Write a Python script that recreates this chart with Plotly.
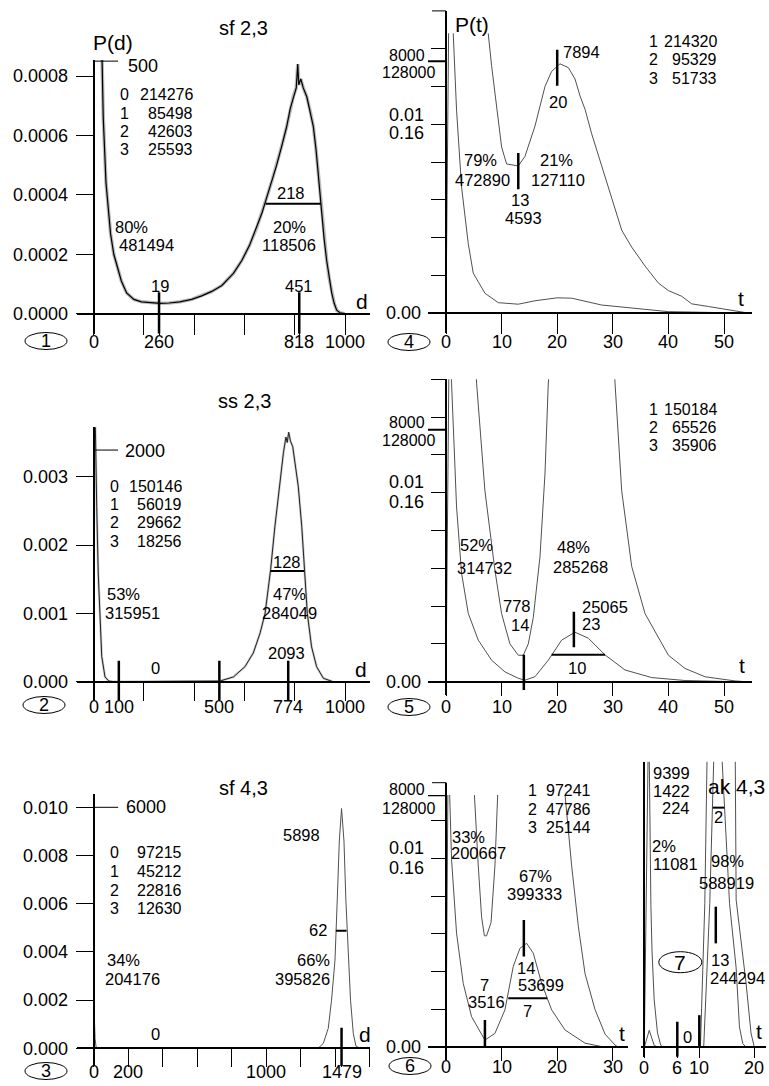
import plotly.graph_objects as go

W, H = 769, 1086
FONT = "Liberation Sans, Arial, Helvetica, sans-serif"
GREY = "#505050"
FS = 16.5        # annotation font size
FTB = 16         # table font size
FT = 18          # tick-label font size

# ===================== DATA =====================
N_TOTAL = 600000                    # 481494 + 118506
MAG = 0.16 / 0.01                   # the two scales printed on the P(t) axes

# ---- Panel 1 : sf 2,3  P(d)
p1_d = [25, 32, 38, 49, 58, 67, 80, 95, 110, 131, 160, 190, 230, 264, 300, 343, 390, 430, 470, 510,
        556, 590, 620, 649, 670, 688, 710, 728, 750, 768, 782, 794, 806, 812, 816, 824, 834, 848, 862, 874,
        885, 894, 907, 917, 927, 937, 947, 957, 967, 980, 1000]
p1_P = [0.0012, 0.00085, 0.00066, 0.00044, 0.00034, 0.00027, 0.00020, 0.00015, 0.00011, 0.000070,
        0.000048, 0.000040, 0.000036, 0.000035, 0.000036, 0.000040, 0.000048, 0.000060, 0.000075, 0.000095,
        0.000136, 0.00018, 0.00023, 0.00029, 0.00034, 0.00039, 0.00045, 0.00050, 0.00057, 0.00063,
        0.00069, 0.00073, 0.00076, 0.00084, 0.00077, 0.00079, 0.00076, 0.00073, 0.00068, 0.00063,
        0.00055, 0.00047, 0.00033, 0.00025, 0.00018, 0.00012, 0.00007, 0.000035, 0.000012, 0.000003, 0.0]
p1_table_idx = ["0", "1", "2", "3"]
p1_table_val = ["214276", "85498", "42603", "25593"]
p1_marks = [260, 818]
p1_mark_top = 0.0000718
p1_top_line = 0.00085
p1_top_count = "500"
p1_fwhm = [684, 904]
p1_fwhm_y = 0.00037

# ---- Panel 2 : ss 2,3  P(d)
p2_d = [3, 8, 12, 18, 25, 32, 45, 60, 80, 450, 503, 556, 602, 635, 662, 682, 704, 721, 741, 755,
        765, 770, 776, 783, 792, 803, 814, 828, 838, 850, 867, 887, 914, 952]
p2_P = [0.0045, 0.0031, 0.00256, 0.00159, 0.00086, 0.00037, 0.00007, 0.00001, 0.0, 0.0,
        0.00001, 0.00007, 0.00022, 0.00042, 0.00071, 0.00100, 0.00164, 0.00227, 0.00295, 0.00335,
        0.00358, 0.00350, 0.00365, 0.00352, 0.00344, 0.00318, 0.00286, 0.00227, 0.00164, 0.00100,
        0.00051, 0.00022, 0.00005, 0.0]
p2_table_idx = ["0", "1", "2", "3"]
p2_table_val = ["150146", "56019", "29662", "18256"]
p2_marks = [100, 500, 774]
p2_mark_top = 0.000307
p2_top_line = 0.00339
p2_top_count = "2000"
p2_fwhm = [704, 837]
p2_fwhm_y = 0.00162

# ---- Panel 3 : sf 4,3  P(d)
p3_d = [0, 3, 8, 14, 25, 1300, 1330, 1359, 1378, 1398, 1411, 1423, 1436, 1450, 1461, 1475, 1488, 1504, 1519, 1542]
p3_P = [0.0, 0.00145, 0.0004, 0.00005, 0.0, 0.0, 0.0002, 0.00083, 0.0020, 0.00366, 0.00615, 0.0086,
        0.00995, 0.0086, 0.00615, 0.00366, 0.0020, 0.00062, 0.0001, 0.0]
p3_table_idx = ["0", "1", "2", "3"]
p3_table_val = ["97215", "45212", "22816", "12630"]
p3_peak_pos = 1436
p3_peak_label = "1479"
p3_mark_top = 0.000855
p3_top_line = 0.010
p3_top_count = "6000"
p3_fwhm = [1403, 1465]
p3_fwhm_y = 0.00488

# ---- Panel 4 : P(t) for sf 2,3   (low = 0.16 scale, high = 0.01 scale)
p4_t_low = [0, 0.6, 1.3, 1.9, 2.8, 4.0, 4.9, 7.0, 9.4, 13.0, 16.0, 20.0, 22.6, 28.0, 34.0, 40.0, 49.0, 54.0]
p4_P_low = [0, 0.304, 0.237, 0.172, 0.107, 0.059, 0.034, 0.017, 0.0090, 0.0077, 0.0106, 0.0131, 0.0128,
            0.0070, 0.0042, 0.0014, 0.0006, 0.0]
p4_t_high = [7.3, 7.6, 8.2, 9.1, 10.0, 10.9, 13.0, 14.2, 16.0, 17.8, 19.0, 20.5, 22.0, 23.2, 24.1, 25.0,
             26.2, 28.0, 30.1, 31.6, 33.4, 35.8, 38.2, 40.0, 42.4, 44.2, 47.2, 50.8, 53.8]
p4_P_high = [0.0170, 0.0148, 0.0131, 0.0108, 0.0088, 0.0079, 0.0078, 0.0083, 0.0099, 0.0120, 0.0128,
             0.0132, 0.0130, 0.0124, 0.0115, 0.0108, 0.0095, 0.0078, 0.0058, 0.0044, 0.0035, 0.0025,
             0.0016, 0.0012, 0.0009, 0.0005, 0.00036, 0.00018, 0.00004]
p4_table_idx = ["1", "2", "3"]
p4_table_val = ["214320", "95329", "51733"]
p4_marks = [(20, 0.01204, 0.01394), (13, 0.00656, 0.00848)]

# ---- Panel 5 : P(t) for ss 2,3
p5_t_low = [0, 0.6, 1.0, 1.9, 2.8, 4.0, 5.8, 8.2, 10.6, 13.0, 14.2, 16.0, 18.4, 20.8, 23.2, 25.6, 28.6,
            32.2, 37.0, 43.0, 52.0]
p5_P_low = [0, 0.304, 0.253, 0.148, 0.0918, 0.0579, 0.0352, 0.0182, 0.0083, 0.0029, 0.0013, 0.0042,
            0.0182, 0.0352, 0.0419, 0.0368, 0.0227, 0.0099, 0.0035, 0.0010, 0.0]
p5_t_high = [5.3, 5.5, 7.0, 8.8, 10.0, 11.5, 13.0, 13.9, 14.8, 15.7, 16.9, 17.8, 18.4, 18.7, 30.2, 30.4,
             31.6, 33.4, 35.8, 40.0, 43.0, 46.6, 52.0, 54.0]
p5_P_high = [0.0170, 0.0158, 0.0101, 0.0059, 0.0036, 0.0020, 0.0014, 0.0014, 0.0020, 0.0034, 0.0066,
             0.0110, 0.0158, 0.0170, 0.0170, 0.0158, 0.0101, 0.0061, 0.0036, 0.0014, 0.0007, 0.00026,
             0.00004, 0.0]
p5_table_idx = ["1", "2", "3"]
p5_table_val = ["150184", "65526", "35906"]
p5_marks = [(14, -0.00044, 0.00142), (23, 0.00182, 0.0037)]
p5_fwhm = [19.0, 28.6]
p5_fwhm_y = 0.00142

# ---- Panel 6 : P(t) for sf 4,3
p6_t_low = [0, 0.4, 1.0, 1.9, 3.1, 4.6, 7.0, 8.8, 10.6, 12.1, 13.3, 14.5, 15.7, 17.2, 19.0, 21.4, 25.0,
            28.0, 31.0]
p6_P_low = [0, 0.256, 0.159, 0.0966, 0.0541, 0.0259, 0.0061, 0.0118, 0.0317, 0.0685, 0.0838, 0.0880,
            0.0797, 0.0541, 0.0317, 0.0147, 0.0035, 0.0006, 0.0]
p6_t_high = [4.9, 5.1, 5.8, 6.4, 6.9, 7.3, 8.1, 8.8, 9.3, 9.5, 21.2, 21.4, 22.6, 23.8, 25.0, 26.8, 28.6,
             30.4, 31.0]
p6_P_high = [0.0150, 0.0134, 0.0096, 0.0069, 0.0059, 0.0059, 0.0066, 0.0096, 0.0134, 0.0150, 0.0150,
             0.0134, 0.0096, 0.0064, 0.0039, 0.0020, 0.0007, 0.00012, 0.0]
p6_table_idx = ["1", "2", "3"]
p6_table_val = ["97241", "47786", "25144"]
p6_marks = [(7, 0.0, 0.00144), (14, 0.0048, 0.00674)]
p6_fwhm = [11.2, 18.2]
p6_fwhm_y = 0.0026

# ---- Panel 7 : ak 4,3
p7_t_low = [0, 0.9, 1.8, 2.5, 10.8, 11.9, 12.7, 13.0, 14.0, 15.5, 16.7, 17.3, 17.9, 18.5, 21.0]
p7_P_low = [0, 0.0144, 0.0016, 0, 0, 0.1216, 0.256, 0.4064, 0.256, 0.1216, 0.0672, 0.0173, 0.0032, 0, 0]
p7_t_high = [0, 0.5, 0.8, 1.2, 1.4, 1.8, 2.4, 3.0, 3.5, 10.2, 11.0, 11.5, 16.5, 16.7, 17.6, 18.5, 19.4,
             20.0, 21.0]
p7_P_high = [0, 0.0100, 0.0180, 0.0075, 0.0051, 0.0025, 0.00076, 0.0001, 0, 0, 0.0076, 0.0170, 0.0170,
             0.0078, 0.0056, 0.0034, 0.00076, 0, 0]
p7_table_val = ["9399", "1422", "224"]
p7_marks = [(6, -0.0005, 0.00135), (10, 0.0, 0.0017), (13, 0.0055, 0.00744)]
p7_fwhm = [12.45, 14.55]
p7_fwhm_y = 0.01268

# ===================== GEOMETRY (pixel calibration of each panel) =====================
geo = {
    1: dict(xcal=(93.7, 0.0, 345.0, 1000.0), ycal=(313.7, 0.0, 76.0, 0.0008),
            xdom=(76.7, 370.0), ydom=(60.0, 333.7), xtl=20, ytl=17, xlab=342),
    2: dict(xcal=(93.7, 0.0, 345.0, 1000.0), ycal=(681.7, 0.0, 476.7, 0.003),
            xdom=(76.7, 370.0), ydom=(427.3, 700.0), xtl=18, ytl=17, xlab=707),
    3: dict(xcal=(93.7, 0.0, 266.3, 1000.0), ycal=(1048.3, 0.0, 807.3, 0.010),
            xdom=(76.7, 370.0), ydom=(794.3, 1066.3), xtl=18, ytl=17, xlab=1072),
    4: dict(xcal=(446.0, 0.0, 724.0, 50.0), ycal=(313.3, 0.0, 124.3, 0.010),
            xdom=(428.0, 751.7), ydom=(33.3, 333.3), xtl=20, ytl=14, axtop=10.9, xlab=342),
    5: dict(xcal=(446.0, 0.0, 724.0, 50.0), ycal=(681.7, 0.0, 492.7, 0.010),
            xdom=(428.0, 751.7), ydom=(379.3, 694.7), xtl=13, ytl=14, xlab=707),
    6: dict(xcal=(446.0, 0.0, 724.0, 50.0), ycal=(1047.3, 0.0, 858.3, 0.010),
            xdom=(428.0, 628.3), ydom=(795.0, 1060.3), xtl=13, ytl=14, axtop=782.7, xlab=1067),
    7: dict(xcal=(644.3, 0.0, 754.3, 20.0), ycal=(1047.3, 0.0, 858.3, 0.010),
            xdom=(641.0, 766.0), ydom=(761.7, 1057.3), xtl=10, ytl=0, xlab=1068),
}

xticks = {
    1: ([0, 200, 260, 400, 600, 800, 818, 1000], ["0", "", "260", "", "", "", "818", "1000"]),
    2: ([0, 100, 200, 400, 500, 600, 774, 800, 1000], ["0", "100", "", "", "500", "", "774", "", "1000"]),
    3: ([0, 200, 400, 600, 800, 1000, 1200, 1400, p3_peak_pos, 1600],
        ["0", "200", "", "", "", "1000", "", "", p3_peak_label, ""]),
    4: ([0, 10, 20, 30, 40, 50], ["0", "10", "20", "30", "40", "50"]),
    5: ([0, 10, 20, 30, 40, 50], ["0", "10", "20", "30", "40", "50"]),
    6: ([0, 10, 20, 30], ["0", "10", "20", "30"]),
    7: ([0, 6, 10, 20], ["0", "6", "10", "20"]),
}
tstep = [0.0, 0.002, 0.004, 0.006, 0.008, 0.010, 0.012, 0.014, 0.016]
yticks = {
    1: ([0, 0.0002, 0.0004, 0.0006, 0.0008], ["0.0000", "0.0002", "0.0004", "0.0006", "0.0008"]),
    2: ([0, 0.001, 0.002, 0.003], ["0.000", "0.001", "0.002", "0.003"]),
    3: ([0, 0.002, 0.004, 0.006, 0.008, 0.010], ["0.000", "0.002", "0.004", "0.006", "0.008", "0.010"]),
    4: (tstep, None), 5: (tstep, None), 6: (tstep[:8], None), 7: ([], None),
}
overlay_id = {4: 8, 5: 9, 6: 10, 7: 11}


def lin(p, pa, va, pb, vb):
    return va + (p - pa) * (vb - va) / (pb - pa)


def xid(n):
    return "x" if n == 1 else f"x{n}"


def yid(n):
    return "y" if n == 1 else f"y{n}"


def px2v_y(n, py):
    return lin(py, *geo[n]["ycal"])


def v2py(n, v):
    pa, va, pb, vb = geo[n]["ycal"]
    return lin(v, va, pa, vb, pb)


layout = {}
yranges = {}
for n, g in geo.items():
    xr = [lin(g["xdom"][0], *g["xcal"]), lin(g["xdom"][1], *g["xcal"])]
    yr = [px2v_y(n, g["ydom"][1]), px2v_y(n, g["ydom"][0])]
    yranges[n] = yr
    tv, tt = xticks[n]
    layout["xaxis" if n == 1 else f"xaxis{n}"] = dict(
        domain=[g["xdom"][0] / W, g["xdom"][1] / W], range=xr, anchor="free",
        position=1 - g["ycal"][0] / H, showline=True, linewidth=2, linecolor="black",
        ticks="outside", ticklen=g["xtl"], tickwidth=1, tickcolor="black",
        tickvals=tv, showticklabels=False, showgrid=False, zeroline=False, fixedrange=True)
    ytv, ytt = yticks[n]
    yax = dict(
        domain=[1 - g["ydom"][1] / H, 1 - g["ydom"][0] / H], range=yr, anchor="free",
        position=g["xcal"][0] / W, showline=True, linewidth=2, linecolor="black",
        ticks="outside" if g["ytl"] else "", ticklen=max(g["ytl"], 1), tickwidth=1, tickcolor="black",
        tickvals=ytv, showgrid=False, zeroline=False, fixedrange=True,
        tickfont=dict(family=FONT, size=FT, color="black"))
    if ytt is None:
        yax["showticklabels"] = False
    else:
        yax["ticktext"] = ytt
        yax["ticklabelstandoff"] = 4
    layout["yaxis" if n == 1 else f"yaxis{n}"] = yax
    if n in overlay_id:
        layout[f"yaxis{overlay_id[n]}"] = dict(
            overlaying=yid(n), range=[r * MAG for r in yr], visible=False,
            anchor=xid(n), fixedrange=True)

traces = []


def curve(n, x, y, color=GREY, width=1.0, overlay=False):
    traces.append(go.Scatter(x=x, y=y, mode="lines", xaxis=xid(n),
                             yaxis=f"y{overlay_id[n]}" if overlay else yid(n),
                             line=dict(color=color, width=width), hoverinfo="skip", showlegend=False))


curve(1, p1_d, p1_P, color="rgba(0,0,0,0.28)", width=3.5)
curve(1, p1_d, p1_P, color="black", width=1.2)
curve(2, p2_d, p2_P, color="rgba(0,0,0,0.2)", width=2.5)
curve(2, p2_d, p2_P, color="#222", width=1.0)
curve(3, p3_d, p3_P, color=GREY, width=1.0)
for n, tl, pl, th, ph in [(4, p4_t_low, p4_P_low, p4_t_high, p4_P_high),
                          (5, p5_t_low, p5_P_low, p5_t_high, p5_P_high),
                          (6, p6_t_low, p6_P_low, p6_t_high, p6_P_high),
                          (7, p7_t_low, p7_P_low, p7_t_high, p7_P_high)]:
    curve(n, tl, pl, overlay=True)
    curve(n, th, ph)

S = []


def seg(n, x0, y0, x1, y1, w=2.5):
    S.append(dict(type="line", xref=xid(n), yref=yid(n), x0=x0, y0=y0, x1=x1, y1=y1,
                  line=dict(color="black", width=w)))


for x in p1_marks:
    seg(1, x, yranges[1][0], x, p1_mark_top)
for x in p2_marks:
    seg(2, x, yranges[2][0], x, p2_mark_top)
seg(3, p3_peak_pos, yranges[3][0], p3_peak_pos, p3_mark_top)
seg(1, 0, p1_top_line, 97, p1_top_line, w=1)
seg(2, 0, p2_top_line, 97, p2_top_line, w=1)
seg(3, 0, p3_top_line, 142, p3_top_line, w=1)
seg(1, p1_fwhm[0], p1_fwhm_y, p1_fwhm[1], p1_fwhm_y, w=2)
seg(2, p2_fwhm[0], p2_fwhm_y, p2_fwhm[1], p2_fwhm_y, w=2)
seg(3, p3_fwhm[0], p3_fwhm_y, p3_fwhm[1], p3_fwhm_y, w=2)
seg(5, p5_fwhm[0], p5_fwhm_y, p5_fwhm[1], p5_fwhm_y, w=2)
seg(6, p6_fwhm[0], p6_fwhm_y, p6_fwhm[1], p6_fwhm_y, w=2)
seg(7, p7_fwhm[0], p7_fwhm_y, p7_fwhm[1], p7_fwhm_y, w=2)
for n, marks in [(4, p4_marks), (5, p5_marks), (6, p6_marks), (7, p7_marks)]:
    for t, y0, y1 in marks:
        seg(n, t, y0, t, y1)
for n in (4, 5, 6):
    xl = lin(geo[n]["xdom"][0], *geo[n]["xcal"])
    seg(n, xl, 8000 / N_TOTAL, 0, 8000 / N_TOTAL, w=2)

for n, g in geo.items():
    if "axtop" in g:
        xp = g["xcal"][0]
        S.append(dict(type="line", xref="paper", yref="paper", x0=xp / W, x1=xp / W,
                      y0=1 - g["ydom"][0] / H, y1=1 - g["axtop"] / H, line=dict(color="black", width=2)))
        for v in tstep:
            py = v2py(n, v)
            if py < g["ydom"][0] - 0.5 and py >= g["axtop"] - 0.5:
                S.append(dict(type="line", xref="paper", yref="paper", x0=(xp - g["ytl"]) / W, x1=xp / W,
                              y0=1 - py / H, y1=1 - py / H, line=dict(color="black", width=1)))

A = []


def T(px, py, s, size=FS, xa="center", ya="middle"):
    A.append(dict(x=px / W, y=1 - py / H, xref="paper", yref="paper", text=s, showarrow=False,
                  xanchor=xa, yanchor=ya, borderpad=0,
                  font=dict(family=FONT, size=size, color="black")))


for n, g in geo.items():
    for v, s in zip(*xticks[n]):
        if s:
            A.append(dict(x=v, xref=xid(n), y=1 - g["xlab"] / H, yref="paper", text=s, showarrow=False,
                          xanchor="center", yanchor="middle", borderpad=0,
                          font=dict(family=FONT, size=FT, color="black")))


def table(ix, rx, ys, idx, vals, size=FTB):
    for y, i, v in zip(ys, idx, vals):
        if ix is not None:
            T(ix, y, i, size)
        T(rx, y, v, size, xa="right")


def circ(cx, cy, s, w=42, h=17, size=FT):
    S.append(dict(type="circle", xref="paper", yref="paper", x0=(cx - w / 2) / W, x1=(cx + w / 2) / W,
                  y0=1 - (cy + h / 2) / H, y1=1 - (cy - h / 2) / H, line=dict(color="black", width=1)))
    T(cx, cy, s, size)


# ---- panel 1 text
T(243, 28, "sf 2,3", 20)
T(113.3, 42, "P(d)", 21)
T(126.7, 65.7, p1_top_count, FT, xa="left")
table(125, 194, [94.3, 113.3, 131.7, 150], p1_table_idx, p1_table_val)
T(131.7, 226.7, "80%")
T(146.7, 245, "481494")
T(290.7, 193.3, "218")
T(289.3, 226.7, "20%")
T(289.3, 245, "118506")
T(160, 286, "19")
T(299, 286, "451")
T(361.7, 301.7, "d", 21)
circ(46, 341, "1")

# ---- panel 4 text
T(471.7, 25, "P(t)", 21)
T(407, 55, "8000", 16)
T(408, 72.5, "128000", 16)
T(406.7, 115, "0.01", FT)
T(406.7, 133.3, "0.16", FT)
T(403, 313.3, "0.00", FT)
T(561.7, 51.7, "7894", xa="left")
T(558.3, 101.7, "20")
T(480, 160, "79%")
T(482.3, 180, "472890")
T(556.7, 160, "21%")
T(557.7, 180, "127110")
T(520, 200, "13")
T(523.3, 218.3, "4593")
table(653.3, 718.3, [41.7, 60, 79], p4_table_idx, p4_table_val)
T(741, 298.3, "t", 21)
circ(409, 342, "4")

# ---- panel 2 text
T(245, 400.7, "ss 2,3", 20)
T(124, 451, p2_top_count, FT, xa="left")
table(114, 183.3, [486, 504.3, 522.7, 541.7], p2_table_idx, p2_table_val)
T(123.3, 594, "53%")
T(132.7, 612.7, "315951")
T(286.7, 561.7, "128")
T(289.3, 594, "47%")
T(289.3, 612.7, "284049")
T(286.7, 653.3, "2093")
T(155.3, 668.3, "0")
T(360.7, 669.3, "d", 21)
circ(44, 705, "2")

# ---- panel 5 text
T(407, 422.5, "8000", 16)
T(408, 440, "128000", 16)
T(406.7, 481.7, "0.01", FT)
T(406.7, 501.7, "0.16", FT)
T(403, 681.7, "0.00", FT)
table(653.3, 718.3, [409, 427.3, 446], p5_table_idx, p5_table_val)
T(476.7, 545, "52%")
T(484.3, 568.3, "314732")
T(573.3, 546.7, "48%")
T(580.7, 566.7, "285268")
T(516.7, 605.7, "778")
T(520, 625, "14")
T(581, 606.7, "25065", xa="left")
T(581, 624, "23", xa="left")
T(577.3, 668.3, "10")
T(741.7, 665, "t", 21)
circ(409, 707, "5")

# ---- panel 3 text
T(243.3, 788.3, "sf 4,3", 20)
T(125, 807.3, p3_top_count, FT, xa="left")
table(114, 183.3, [852.3, 871, 890, 908.7], p3_table_idx, p3_table_val)
T(123.3, 960, "34%")
T(132.7, 979, "204176")
T(301.7, 835, "5898")
T(327.7, 930, "62", xa="right")
T(330.7, 960, "66%", xa="right")
T(330.7, 979, "395826", xa="right")
T(155.3, 1034.3, "0")
T(365, 1034.3, "d", 21)
circ(46, 1071, "3")

# ---- panel 6 text
T(407, 789.3, "8000", 16)
T(408, 808.3, "128000", 16)
T(406.7, 848.3, "0.01", FT)
T(406.7, 868.3, "0.16", FT)
T(403, 1047.3, "0.00", FT)
table(532.7, 592.3, [790, 809, 827.7], p6_table_idx, p6_table_val)
T(468.3, 836.7, "33%")
T(478.3, 853.3, "200667")
T(535, 876, "67%")
T(534.3, 894, "399333")
T(526, 968.3, "14")
T(540.7, 985, "53699")
T(485, 985, "7")
T(486, 1002, "3516")
T(527.7, 1011, "7")
T(622.3, 1033.3, "t", 21)
circ(410, 1066, "6")

# ---- panel 7 text
table(None, 691, [773.3, 791, 808.3], ["", "", ""], p7_table_val, size=FS)
T(736, 786.7, "ak 4,3", 21)
T(718.3, 816.7, "2")
T(664.3, 845.5, "2%")
T(675.3, 863.5, "11081")
T(727.7, 861, "98%")
T(726, 882.7, "588919")
T(710, 960, "13", xa="left")
T(709, 978.3, "244294", xa="left")
T(687.7, 1036.7, "0")
T(758.7, 1031.7, "t", 21)
circ(680.3, 962.2, "7", w=43, h=21, size=21)

fig = go.Figure(data=traces)
fig.update_layout(width=W, height=H, margin=dict(l=0, r=0, t=0, b=0, pad=0),
                  paper_bgcolor="white", plot_bgcolor="white", showlegend=False,
                  font=dict(family=FONT, color="black"), shapes=S, annotations=A, **layout)
fig.write_html("out.html", config={"displayModeBar": False},
               post_script="document.body.style.margin='0';")
